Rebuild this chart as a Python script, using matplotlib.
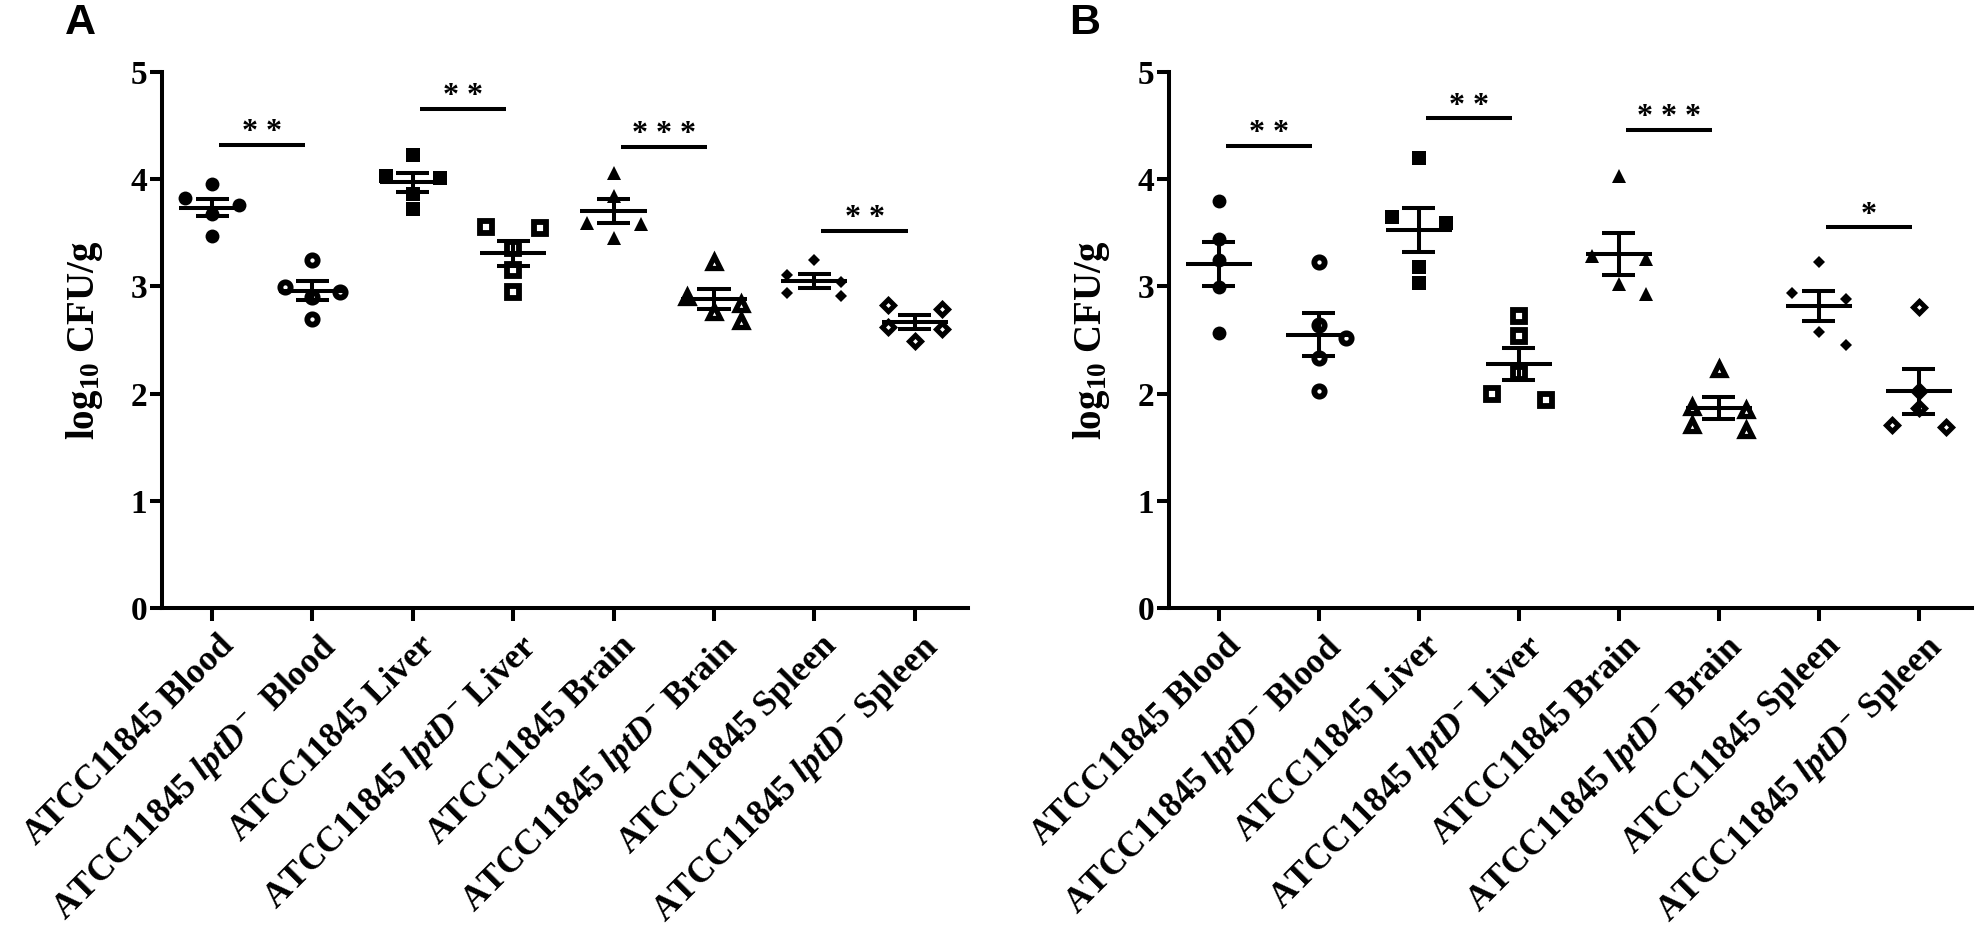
import numpy as np
import matplotlib
matplotlib.use("Agg")
import matplotlib.pyplot as plt
from matplotlib.transforms import ScaledTranslation

plt.rcParams['font.family'] = ['Liberation Serif', 'DejaVu Serif']
plt.rcParams['font.weight'] = 'bold'
plt.rcParams['mathtext.fontset'] = 'custom'
plt.rcParams['mathtext.rm'] = 'Liberation Serif:bold'
plt.rcParams['mathtext.it'] = 'Liberation Serif:italic:bold'
plt.rcParams['mathtext.bf'] = 'Liberation Serif:bold'

# tick labels
labels_a = ["ATCC11845 Blood", r"ATCC11845 $\mathit{lptD}^{-}$  Blood",
            "ATCC11845 Liver", r"ATCC11845 $\mathit{lptD}^{-}$ Liver",
            "ATCC11845 Brain", r"ATCC11845 $\mathit{lptD}^{-}$ Brain",
            "ATCC11845 Spleen", r"ATCC11845 $\mathit{lptD}^{-}$ Spleen"]
labels_b = ["ATCC11845 Blood", r"ATCC11845 $\mathit{lptD}^{-}$ Blood",
            "ATCC11845 Liver", r"ATCC11845 $\mathit{lptD}^{-}$ Liver",
            "ATCC11845 Brain", r"ATCC11845 $\mathit{lptD}^{-}$ Brain",
            "ATCC11845 Spleen", r"ATCC11845 $\mathit{lptD}^{-}$ Spleen"]

# panel A, log10 CFU/g per mouse
blood_wt_a = [3.95, 3.82, 3.76, 3.67, 3.47]
blood_mut_a = [3.25, 2.99, 2.95, 2.90, 2.70]
liver_wt_a = [4.22, 4.03, 4.01, 3.86, 3.72]
liver_mut_a = [3.55, 3.54, 3.36, 3.15, 2.95]
brain_wt_a = [4.06, 3.84, 3.59, 3.58, 3.45]
brain_mut_a = [3.23, 2.90, 2.84, 2.76, 2.68]
spleen_wt_a = [3.25, 3.11, 3.04, 2.94, 2.91]
spleen_mut_a = [2.83, 2.79, 2.62, 2.60, 2.49]

# panel B
blood_wt_b = [3.80, 3.44, 3.25, 2.99, 2.57]
blood_mut_b = [3.23, 2.64, 2.52, 2.33, 2.03]
liver_wt_b = [4.20, 3.65, 3.59, 3.18, 3.03]
liver_mut_b = [2.72, 2.54, 2.19, 2.00, 1.94]
brain_wt_b = [4.03, 3.28, 3.26, 3.02, 2.93]
brain_mut_b = [2.23, 1.88, 1.85, 1.71, 1.66]
spleen_wt_b = [3.23, 2.94, 2.88, 2.58, 2.45]
spleen_mut_b = [2.81, 2.03, 1.87, 1.71, 1.69]

# significance
sig_pairs = [(0, 1), (2, 3), (4, 5), (6, 7)]
sig_text_a = ["**", "**", "***", "**"]
sig_y_a = [4.32, 4.65, 4.30, 3.52]
sig_text_b = ["**", "**", "***", "*"]
sig_y_b = [4.31, 4.565, 4.46, 3.55]

groups_a = [blood_wt_a, blood_mut_a, liver_wt_a, liver_mut_a,
            brain_wt_a, brain_mut_a, spleen_wt_a, spleen_mut_a]
groups_b = [blood_wt_b, blood_mut_b, liver_wt_b, liver_mut_b,
            brain_wt_b, brain_mut_b, spleen_wt_b, spleen_mut_b]

# marker styles (filled wt / open mutant)
styles = [
    dict(marker='o', ms=10, mfc='black', mec='black', mew=0),
    dict(marker='o', ms=7.4, mfc='white', mec='black', mew=4.2),
    dict(marker='s', ms=9.5, mfc='black', mec='black', mew=0),
    dict(marker='s', ms=8.2, mfc='white', mec='black', mew=4.2),
    dict(marker='^', ms=10, mfc='black', mec='black', mew=0),
    dict(marker='^', ms=9.0, mfc='white', mec='black', mew=3.8),
    dict(marker='D', ms=6.6, mfc='black', mec='black', mew=0),
    dict(marker='D', ms=6.0, mfc='white', mec='black', mew=3.6),
]

LW = 2.9


def swarm_offsets(vals, step=0.27, gap=0.07, h=0.135):
    vals = np.asarray(vals, float)
    order = np.argsort(-vals, kind='stable')
    rows = []
    for i in order:
        if rows and vals[rows[-1][0]] - vals[i] < gap:
            rows[-1].append(i)
        else:
            rows.append([i])
    offs = np.zeros(len(vals))
    placed = []
    for row in rows:
        if len(row) == 1:
            i = row[0]
            for o in (0.0, step, -step, 2 * step, -2 * step):
                if all(not (abs(po - o) < 1e-9 and abs(pv - vals[i]) < h)
                       for po, pv in placed):
                    break
            offs[i] = o
            placed.append((o, vals[i]))
        else:
            n = len(row)
            cand = np.linspace(-step * (n - 1) / 2, step * (n - 1) / 2, n)
            if n == 2:
                cand = np.array([-step, step])
            for i, o in zip(row, cand):
                offs[i] = o
                placed.append((o, vals[i]))
    return offs


def draw_panel(ax, groups, labels, sig_text, sig_y):
    for k, vals in enumerate(groups):
        vals = np.asarray(vals, float)
        xs = k + swarm_offsets(vals)
        ax.plot(xs, vals, linestyle='none', zorder=2, clip_on=False, **styles[k])
        m = vals.mean()
        sem = vals.std(ddof=1) / np.sqrt(len(vals))
        ax.hlines(m, k - 0.33, k + 0.33, color='black', lw=LW, zorder=3)
        ax.hlines([m - sem, m + sem], k - 0.165, k + 0.165, color='black', lw=LW, zorder=3)
        ax.vlines(k, m - sem, m + sem, color='black', lw=LW, zorder=3)

    for (i, j), txt, y in zip(sig_pairs, sig_text, sig_y):
        x0, x1 = i + 0.07, j - 0.07
        ax.hlines(y, x0, x1, color='black', lw=LW, clip_on=False)
        ax.text((x0 + x1) / 2, y + 0.045, " ".join(txt), ha='center', va='baseline',
                fontsize=23, fontweight='bold')

    ax.set_xlim(-0.5, 7.53)
    ax.set_ylim(0, 5)
    ax.set_yticks(range(6))
    ax.set_xticks(range(len(labels)))
    ax.set_xticklabels(labels, rotation=45, ha='right', rotation_mode='anchor',
                       fontsize=25.5, fontweight='bold')
    ax.tick_params(axis='y', labelsize=24, width=LW, length=8.5, pad=2)
    ax.tick_params(axis='x', width=LW, length=9, pad=6)
    for lab in ax.get_yticklabels():
        lab.set_fontweight('bold')
    shift = ScaledTranslation(4 / 72, 0, ax.figure.dpi_scale_trans)
    for lab in ax.get_xticklabels():
        lab.set_transform(lab.get_transform() + shift)
    for side in ('top', 'right'):
        ax.spines[side].set_visible(False)
    for side in ('left', 'bottom'):
        ax.spines[side].set_linewidth(LW)
    ax.set_ylabel(r"log$_{10}$ CFU/g", fontsize=28, fontweight='bold')
    ax.yaxis.set_label_coords(-0.071, 0.5)


fig = plt.figure(figsize=(19.77, 9.36), dpi=100)
ax_a = fig.add_axes([0.0819, 0.3499, 0.4077, 0.5735])
ax_b = fig.add_axes([0.5913, 0.3499, 0.4060, 0.5735])

draw_panel(ax_a, groups_a, labels_a, sig_text_a, sig_y_a)
draw_panel(ax_b, groups_b, labels_b, sig_text_b, sig_y_b)

fig.text(0.033, 0.997, "A", family='Liberation Sans', fontweight='bold', fontsize=31, va='top')
fig.text(0.541, 0.997, "B", family='Liberation Sans', fontweight='bold', fontsize=31, va='top')

fig.savefig("out.png", dpi=100)
